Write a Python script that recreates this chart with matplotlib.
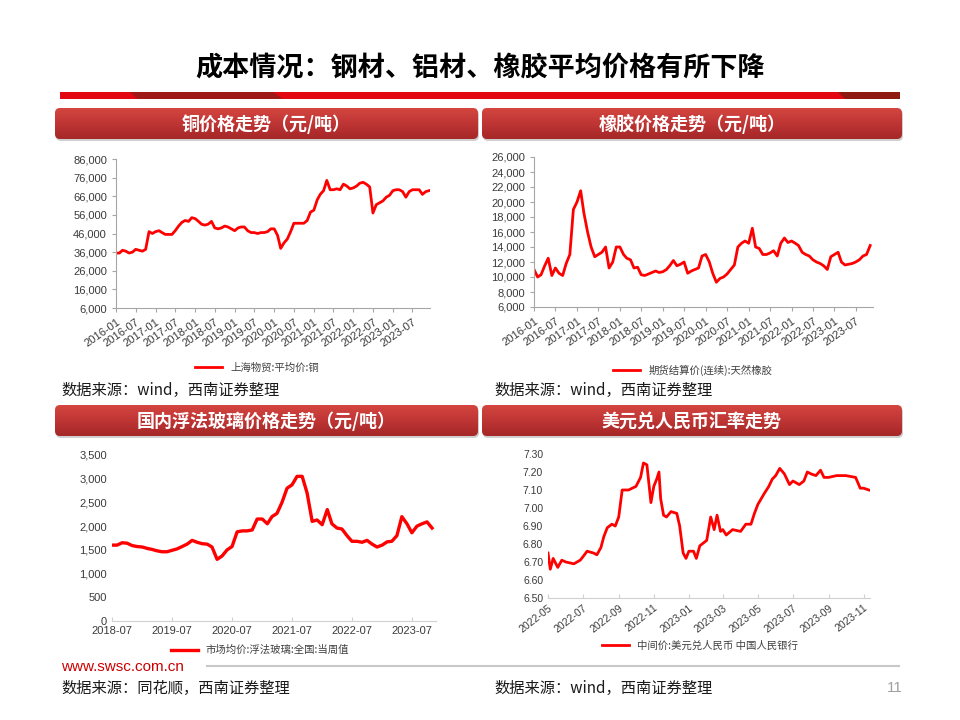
import numpy as np
import pandas as pd
import matplotlib
matplotlib.use("Agg")
import matplotlib.pyplot as plt
import matplotlib.dates as mdates
from matplotlib.patches import FancyBboxPatch, Polygon, Rectangle
from matplotlib.lines import Line2D
from matplotlib.colors import LinearSegmentedColormap
from matplotlib.ticker import MultipleLocator, StrMethodFormatter

CJK = ["Noto Sans CJK SC", "DejaVu Sans"]
NUM = ["Liberation Sans", "DejaVu Sans"]
plt.rcParams["font.family"] = ["Liberation Sans", "Noto Sans CJK SC", "DejaVu Sans"]

RED = "#ff0000"

# copper, monthly from 2016-01 (yuan/ton)
copper_start = "2016-01-01"
copper_vals = [
    35500, 35500, 37000, 36500, 35500, 36000, 37500, 37000, 36500, 37500, 47000, 46000,
    47000, 47500, 46500, 45500, 45500, 45500, 47500, 50000, 52000, 53000, 52500, 54500,
    54000, 52500, 51000, 50500, 51000, 52500, 49000, 48500, 49000, 50000, 49500, 48500,
    47500, 49000, 49500, 49500, 47500, 46500, 46500, 46000, 46500, 46500, 47000, 48500,
    48500, 45000, 38000, 41000, 43000, 47000, 51500, 51500, 51500, 51500, 53000, 57500,
    58500, 64000, 67000, 69000, 74500, 69500, 69500, 70000, 69500, 72500, 71500, 70000,
    70500, 71500, 73000, 73500, 72500, 71000, 57000, 61500, 62500, 63500, 65500, 66500,
    69000, 69500, 69500, 68500, 65500, 68500, 69500, 69500, 69500, 67000, 68500, 69000,
]
copper_ticks = [6000, 16000, 26000, 36000, 46000, 56000, 66000, 76000, 86000]

# natural rubber futures settlement, monthly from 2016-01
rubber_start = "2016-01-01"
rubber_vals = [
    11000, 10000, 10300, 11500, 12500, 10200, 11200, 10500, 10200, 11800, 13000, 19000,
    20000, 21500, 18500, 16000, 14000, 12700, 13000, 13300, 14000, 11200, 12000, 14000,
    14000, 13000, 12500, 12300, 11200, 11300, 10300, 10200, 10400, 10600, 10800, 10600,
    10700, 11000, 11500, 12200, 11500, 11700, 12000, 10500, 10800, 11000, 11200, 12800,
    13000, 12000, 10500, 9300, 9800, 10000, 10400, 11000, 11600, 14000, 14500, 14800,
    14500, 16500, 14000, 13800, 13000, 13000, 13200, 13500, 12800, 14500, 15200, 14600,
    14800, 14500, 14200, 13300, 13000, 12800, 12300, 12000, 11800, 11500, 11000, 12700,
    13000, 13300, 12000, 11600, 11700, 11800, 12000, 12300, 12800, 13000, 14200,
]

# float glass national average, monthly from 2018-07
glass_start = "2018-07-01"
glass_vals = [
    1600, 1600, 1650, 1640, 1590, 1570,
    1560, 1530, 1510, 1480, 1460, 1460, 1490, 1520, 1570, 1620, 1700, 1660,
    1630, 1620, 1560, 1300, 1370, 1500, 1570, 1880, 1900, 1900, 1920, 2150,
    2150, 2050, 2200, 2270, 2500, 2800, 2870, 3050, 3050, 2700, 2100, 2130,
    2030, 2350, 2050, 1960, 1940, 1800, 1680, 1680, 1660, 1700, 1620, 1560,
    1600, 1670, 1680, 1800, 2200, 2050, 1860, 2000, 2050, 2090, 1960,
]

# USD/CNY central parity
fx_dates = [
    "2022-05-01", "2022-05-05", "2022-05-10", "2022-05-18", "2022-05-25", "2022-06-01",
    "2022-06-15", "2022-06-26", "2022-07-01", "2022-07-08", "2022-07-19", "2022-07-25",
    "2022-08-01", "2022-08-06", "2022-08-12", "2022-08-20", "2022-08-26", "2022-09-01",
    "2022-09-07", "2022-09-18", "2022-10-01", "2022-10-09", "2022-10-14", "2022-10-20",
    "2022-10-27", "2022-11-01", "2022-11-06", "2022-11-10", "2022-11-13", "2022-11-18",
    "2022-11-23", "2022-12-01", "2022-12-11", "2022-12-16", "2022-12-22", "2022-12-27",
    "2023-01-01", "2023-01-09", "2023-01-14", "2023-01-20", "2023-02-01", "2023-02-08",
    "2023-02-14", "2023-02-19", "2023-02-25", "2023-03-01", "2023-03-07", "2023-03-18",
    "2023-04-01", "2023-04-10", "2023-04-19", "2023-04-25", "2023-05-01", "2023-05-12",
    "2023-05-20", "2023-05-26", "2023-06-01", "2023-06-08", "2023-06-16", "2023-06-25",
    "2023-07-01", "2023-07-12", "2023-07-20", "2023-07-26", "2023-08-01", "2023-08-10",
    "2023-08-18", "2023-08-24", "2023-09-01", "2023-09-15", "2023-10-01", "2023-10-18",
    "2023-10-26", "2023-11-01", "2023-11-10",
]
fx_vals = [
    6.75, 6.66, 6.72, 6.67, 6.71, 6.70,
    6.69, 6.71, 6.73, 6.76, 6.75, 6.74,
    6.78, 6.84, 6.89, 6.91, 6.90, 6.95,
    7.10, 7.10, 7.12, 7.17, 7.25, 7.24,
    7.03, 7.12, 7.16, 7.20, 7.05, 6.96,
    6.95, 6.98, 6.97, 6.90, 6.75, 6.72,
    6.76, 6.76, 6.72, 6.79, 6.82, 6.95,
    6.88, 6.96, 6.87, 6.88, 6.85, 6.88,
    6.87, 6.91, 6.91, 6.97, 7.02, 7.08,
    7.12, 7.16, 7.18, 7.22, 7.19, 7.13,
    7.15, 7.13, 7.15, 7.20, 7.19, 7.18,
    7.21, 7.17, 7.17, 7.18, 7.18, 7.17,
    7.11, 7.11, 7.10,
]

title = "成本情况：钢材、铝材、橡胶平均价格有所下降"
headers = ["铜价格走势（元/吨）", "橡胶价格走势（元/吨）", "国内浮法玻璃价格走势（元/吨）", "美元兑人民币汇率走势"]
legend_labels = ["上海物贸:平均价:铜", "期货结算价(连续):天然橡胶", "市场均价:浮法玻璃:全国:当周值", "中间价:美元兑人民币 中国人民银行"]
src_wind = "数据来源：wind，西南证券整理"
src_ths = "数据来源：同花顺，西南证券整理"


fig = plt.figure(figsize=(9.6, 7.2), dpi=100)
W, H = 960, 720

# overlay in pixel coordinates for the page decoration
ov = fig.add_axes([0, 0, 1, 1], zorder=0)
ov.axis("off")

HEAD_CMAP = LinearSegmentedColormap.from_list("head", ["#d4463f", "#bf3535", "#a52727"])


def header(x0, y0, x1, y1, text):
    shadow = FancyBboxPatch((x0 + 1, y0 + 2), x1 - x0, y1 - y0,
                            boxstyle="round,pad=0,rounding_size=5", fc="#b0b0b0", ec="none", alpha=0.6, zorder=1)
    ov.add_patch(shadow)
    box = FancyBboxPatch((x0, y0), x1 - x0, y1 - y0,
                         boxstyle="round,pad=0,rounding_size=5", fc="none", ec="none", zorder=2)
    ov.add_patch(box)
    img = ov.imshow(np.linspace(0, 1, 64).reshape(-1, 1), extent=(x0, x1, y1, y0),
                    aspect="auto", cmap=HEAD_CMAP, zorder=2)
    img.set_clip_path(box)
    ov.text((x0 + x1) / 2, (y0 + y1) / 2 + 1, text, color="white", fontsize=13, fontweight="bold",
            ha="center", va="center", family=CJK, zorder=3)


# title and red bar
ov.text(480, 68, title, fontsize=19.5, fontweight="bold", ha="center", va="center", family=CJK, color="black")
ov.add_patch(Rectangle((60, 92), 840, 7, fc="#e30613", ec="none"))
ov.add_patch(Polygon([(130, 92), (273, 92), (283, 99), (138, 99)], closed=True, fc="#9e1a16", ec="none"))
ov.add_patch(Polygon([(838, 92), (900, 92), (900, 99), (845, 99)], closed=True, fc="#8e1a12", ec="none"))

header(55, 108, 478, 139, headers[0])
header(482, 108, 902, 139, headers[1])
header(55, 405, 478, 436, headers[2])
header(482, 405, 902, 436, headers[3])

# sources and footer
ov.text(61, 390, src_wind, fontsize=11, ha="left", va="center", family=CJK, color="#1a1a1a")
ov.text(494, 390, src_wind, fontsize=11, ha="left", va="center", family=CJK, color="#1a1a1a")
ov.text(61, 688, src_ths, fontsize=11, ha="left", va="center", family=CJK, color="#1a1a1a")
ov.text(494, 688, src_wind, fontsize=11, ha="left", va="center", family=CJK, color="#1a1a1a")
ov.text(61, 667, "www.swsc.com.cn", fontsize=11, ha="left", va="center", family=NUM, color="#cc0000")
ov.add_line(Line2D([207, 899], [666, 666], color="#c8c8c8", lw=1.5))
ov.text(895, 688, "11", fontsize=11, ha="center", va="center", family=NUM, color="#a0a0a0")

ov.set_xlim(0, W)
ov.set_ylim(H, 0)


def px_axes(x0, y0, x1, y1):
    ax = fig.add_axes([x0 / W, 1 - y1 / H, (x1 - x0) / W, (y1 - y0) / H], zorder=2)
    ax.patch.set_alpha(0)
    return ax


def style(ax, left_spine=True, tick_dir="out", axis_color="#a6a6a6", labelsize=8):
    for s in ("top", "right"):
        ax.spines[s].set_visible(False)
    ax.spines["left"].set_visible(left_spine)
    ax.spines["left"].set_color(axis_color)
    ax.spines["bottom"].set_color(axis_color)
    ax.tick_params(axis="both", colors=axis_color, labelcolor="#3a3a3a", labelsize=labelsize, width=0.8)
    ax.tick_params(axis="x", direction=tick_dir, length=3)
    ax.tick_params(axis="y", length=3 if left_spine else 0)


def add_legend(line, label, cx, cy):
    fig.legend([line], [label], loc="center", bbox_to_anchor=(cx / W, 1 - cy / H), frameon=False,
               prop={"family": CJK, "size": 7.5}, handlelength=2.6, labelcolor="#404040")


# copper
ax1 = px_axes(116, 159, 430, 308)
d1 = pd.date_range(copper_start, periods=len(copper_vals), freq="MS")
l1, = ax1.plot(d1, copper_vals, color=RED, lw=2.0)
ax1.set_ylim(6000, 86000)
ax1.set_yticks(copper_ticks)
ax1.yaxis.set_major_formatter(StrMethodFormatter("{x:,.0f}"))
ax1.set_xlim(pd.Timestamp("2016-01-01"), pd.Timestamp("2023-12-10"))
ax1.xaxis.set_major_locator(mdates.MonthLocator(bymonth=(1, 7)))
ax1.xaxis.set_major_formatter(mdates.DateFormatter("%Y-%m"))
style(ax1)
plt.setp(ax1.get_xticklabels(), rotation=35, ha="right", rotation_mode="anchor")
add_legend(l1, legend_labels[0], 257, 368)

# rubber
ax2 = px_axes(534, 157, 873, 307)
d2 = pd.date_range(rubber_start, periods=len(rubber_vals), freq="MS")
l2, = ax2.plot(d2, rubber_vals, color=RED, lw=2.0)
ax2.set_ylim(6000, 26000)
ax2.yaxis.set_major_locator(MultipleLocator(2000))
ax2.yaxis.set_major_formatter(StrMethodFormatter("{x:,.0f}"))
ax2.set_xlim(pd.Timestamp("2016-01-01"), pd.Timestamp("2023-11-25"))
ax2.xaxis.set_major_locator(mdates.MonthLocator(bymonth=(1, 7)))
ax2.xaxis.set_major_formatter(mdates.DateFormatter("%Y-%m"))
style(ax2)
plt.setp(ax2.get_xticklabels(), rotation=35, ha="right", rotation_mode="anchor")
add_legend(l2, legend_labels[1], 693, 370)

# glass
ax3 = px_axes(112, 455, 436, 621)
d3 = pd.date_range(glass_start, periods=len(glass_vals), freq="MS")
l3, = ax3.plot(d3, glass_vals, color=RED, lw=2.4)
ax3.set_ylim(0, 3500)
ax3.yaxis.set_major_locator(MultipleLocator(500))
ax3.yaxis.set_major_formatter(StrMethodFormatter("{x:,.0f}"))
ax3.set_xlim(pd.Timestamp("2018-07-01"), pd.Timestamp("2023-11-25"))
ax3.xaxis.set_major_locator(mdates.MonthLocator(bymonth=7))
ax3.xaxis.set_major_formatter(mdates.DateFormatter("%Y-%m"))
style(ax3, left_spine=False, tick_dir="in", axis_color="#d0d0d0")
add_legend(l3, legend_labels[2], 260, 650)

# usd/cny
ax4 = px_axes(548, 454, 870, 598)
d4 = pd.to_datetime(fx_dates)
l4, = ax4.plot(d4, fx_vals, color=RED, lw=2.0)
ax4.set_ylim(6.5, 7.3)
ax4.yaxis.set_major_locator(MultipleLocator(0.1))
ax4.yaxis.set_major_formatter(StrMethodFormatter("{x:.2f}"))
ax4.set_xlim(pd.Timestamp("2022-05-01"), pd.Timestamp("2023-11-12"))
ax4.xaxis.set_major_locator(mdates.MonthLocator(bymonth=(1, 3, 5, 7, 9, 11)))
ax4.xaxis.set_major_formatter(mdates.DateFormatter("%Y-%m"))
style(ax4, left_spine=False, tick_dir="in", axis_color="#d0d0d0", labelsize=7.5)
plt.setp(ax4.get_xticklabels(), rotation=38, ha="right", rotation_mode="anchor")
add_legend(l4, legend_labels[3], 700, 646)

fig.savefig("out.png", dpi=100)
